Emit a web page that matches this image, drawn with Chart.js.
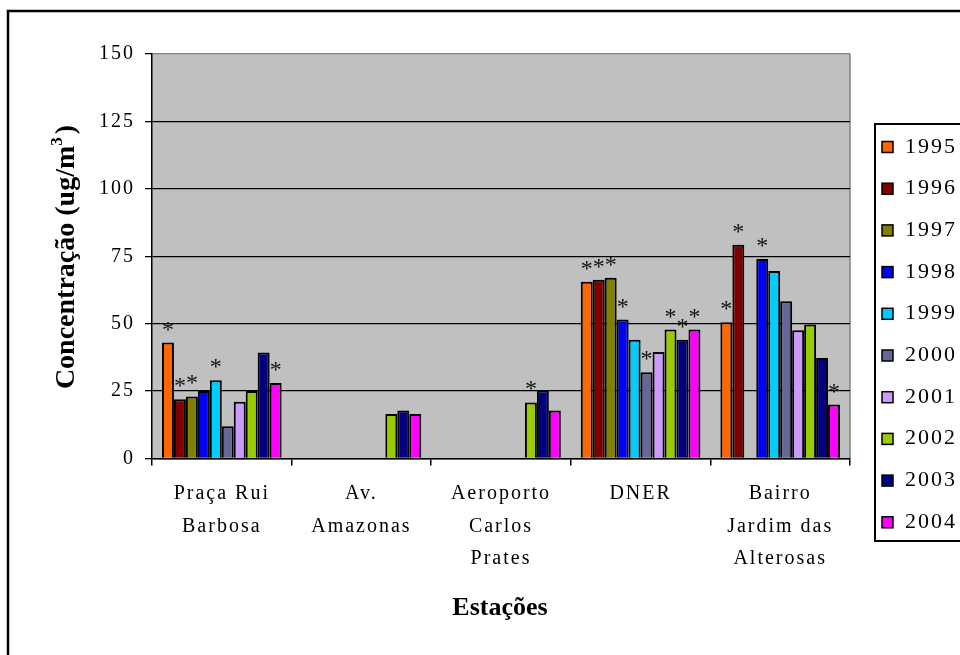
<!DOCTYPE html>
<html>
<head>
<meta charset="utf-8">
<style>
  html, body { margin: 0; padding: 0; background: #fff; }
  canvas { display: block; }
</style>
</head>
<body>
<canvas id="chart" width="960" height="655"></canvas>
<script src="https://cdn.jsdelivr.net/npm/chart.js@4.4.1/dist/chart.umd.min.js"></script>
<script>
  // Stations (x categories), one label line per array entry
  const stations = [
    ['Praça Rui', 'Barbosa'],
    ['Av.', 'Amazonas'],
    ['Aeroporto', 'Carlos', 'Prates'],
    ['DNER'],
    ['Bairro', 'Jardim das', 'Alterosas']
  ];

  const years = ['1995', '1996', '1997', '1998', '1999', '2000', '2001', '2002', '2003', '2004'];

  // Concentration per station, ug/m3 (null = no measurement)
  const c1995 = [43, null, null, 65.5, 50.5];
  const c1996 = [22, null, null, 66.3, 79.3];
  const c1997 = [23, null, null, 67, null];
  const c1998 = [25, null, null, 51.5, 74];
  const c1999 = [29, null, null, 44, 69.5];
  const c2000 = [12, null, null, 32, 58.3];
  const c2001 = [21, null, null, 39.5, 47.6];
  const c2002 = [25, 16.5, 20.8, 47.8, 49.7];
  const c2003 = [39.3, 17.8, 25.2, 44, 37.3];
  const c2004 = [28, 16.5, 17.8, 47.8, 20];

  // Asterisk marks above bars
  const m1995 = ['*', '', '', '*', '*'];
  const m1996 = ['*', '', '', '*', '*'];
  const m1997 = ['*', '', '', '*', ''];
  const m1998 = ['', '', '', '*', '*'];
  const m1999 = ['*', '', '', '', ''];
  const m2000 = ['', '', '', '*', ''];
  const m2001 = ['', '', '', '', ''];
  const m2002 = ['', '', '*', '*', ''];
  const m2003 = ['', '', '', '*', ''];
  const m2004 = ['*', '', '', '*', '*'];

  const yMax = 150;
  const yStep = 25;

  const values = [c1995, c1996, c1997, c1998, c1999, c2000, c2001, c2002, c2003, c2004];
  const marks = [m1995, m1996, m1997, m1998, m1999, m2000, m2001, m2002, m2003, m2004];
  const colors = ['#ff6600', '#800000', '#808000', '#0000ff', '#00ccff',
                  '#666699', '#cc99ff', '#99cc00', '#000080', '#ff00ff'];

  const SERIF = '"Liberation Serif", "Times New Roman", serif';

  const decor = {
    id: 'decor',
    beforeDraw(chart) {
      const { ctx, chartArea: a } = chart;
      ctx.save();
      ctx.fillStyle = '#c0c0c0';
      ctx.fillRect(a.left, a.top, a.right - a.left, a.bottom - a.top);
      ctx.strokeStyle = '#808080';
      ctx.lineWidth = 1.5;
      ctx.beginPath();
      ctx.moveTo(a.right, a.top);
      ctx.lineTo(a.right, a.bottom);
      ctx.stroke();
      ctx.restore();
      // spaced-out tick labels
      ctx.letterSpacing = '2px';
    },
    beforeDatasetsDraw(chart) {
      chart.ctx.letterSpacing = '0px';
    },
    afterDatasetsDraw(chart) {
      const ctx = chart.ctx;
      ctx.save();
      ctx.font = '24px ' + SERIF;
      ctx.fillStyle = '#111';
      ctx.textAlign = 'center';
      ctx.textBaseline = 'alphabetic';
      chart.data.datasets.forEach((ds, i) => {
        const meta = chart.getDatasetMeta(i);
        ds.marks.forEach((m, j) => {
          if (!m || ds.data[j] == null) return;
          const bar = meta.data[j];
          ctx.fillText(m, bar.x, bar.y - 6);
        });
      });
      ctx.restore();
    },
    afterDraw(chart) {
      const ctx = chart.ctx;
      ctx.save();
      ctx.letterSpacing = '0px';
      ctx.fillStyle = '#000';

      // y axis title with superscript
      ctx.save();
      ctx.translate(74, 257);
      ctx.rotate(-Math.PI / 2);
      ctx.textBaseline = 'alphabetic';
      ctx.textAlign = 'left';
      const main = 'Concentração (ug/m', sup = '3', end = ')';
      ctx.font = 'bold 28px ' + SERIF;
      const wMain = ctx.measureText(main).width;
      const wEnd = ctx.measureText(end).width;
      ctx.font = 'bold 17px ' + SERIF;
      const wSup = ctx.measureText(sup).width;
      let x = -(wMain + wSup + wEnd + 3) / 2;
      ctx.font = 'bold 28px ' + SERIF;
      ctx.fillText(main, x, 0);
      x += wMain;
      ctx.font = 'bold 17px ' + SERIF;
      ctx.fillText(sup, x, -12);
      x += wSup + 3;
      ctx.font = 'bold 28px ' + SERIF;
      ctx.fillText(end, x, 0);
      ctx.restore();

      // x axis title
      ctx.font = 'bold 26px ' + SERIF;
      ctx.textAlign = 'center';
      ctx.fillText('Estações', 500, 615);

      // legend
      ctx.strokeStyle = '#000';
      ctx.lineWidth = 2;
      ctx.strokeRect(875, 124, 130, 417);
      ctx.textAlign = 'left';
      ctx.font = '22px ' + SERIF;
      ctx.letterSpacing = '2px';
      chart.data.datasets.forEach((ds, i) => {
        const cy = 147 + i * 41.7;
        ctx.fillStyle = ds.backgroundColor;
        ctx.fillRect(882, cy - 5.5, 11, 11);
        ctx.lineWidth = 1.5;
        ctx.strokeRect(882, cy - 5.5, 11, 11);
        ctx.fillStyle = '#000';
        ctx.fillText(ds.label, 905, cy + 5.5);
      });
      ctx.letterSpacing = '0px';

      // outer frame
      ctx.lineWidth = 2.5;
      ctx.strokeRect(8, 11, 1000, 1000);
      ctx.restore();
    }
  };

  const chart = new Chart(document.getElementById('chart'), {
    type: 'bar',
    data: {
      labels: stations,
      datasets: years.map((y, i) => ({
        label: y,
        data: values[i],
        marks: marks[i],
        backgroundColor: colors[i],
        borderColor: '#000',
        borderWidth: 2,
        categoryPercentage: 0.857,
        barPercentage: 1.0
      }))
    },
    options: {
      responsive: false,
      animation: false,
      layout: { padding: { top: 54, right: 110, left: 0, bottom: 0 } },
      plugins: {
        legend: { display: false },
        tooltip: { enabled: false }
      },
      scales: {
        x: {
          grid: { offset: true, drawOnChartArea: false, color: '#000', tickLength: 7, lineWidth: 1.5 },
          border: { color: '#000', width: 1.5 },
          ticks: {
            color: '#000',
            font: { family: SERIF, size: 20, lineHeight: 1.625 },
            padding: 12,
            maxRotation: 0,
            minRotation: 0,
            autoSkip: false
          },
          afterFit(scale) { scale.height = 655 - 458.5; }
        },
        y: {
          min: 0,
          max: yMax,
          grid: {
            color: c => (c.tick && c.tick.value === yMax ? '#808080' : '#000'),
            tickColor: '#000',
            lineWidth: 1.3,
            tickLength: 7
          },
          border: { color: '#000', width: 1.5 },
          ticks: {
            stepSize: yStep,
            color: '#000',
            font: { family: SERIF, size: 20 },
            padding: 10
          },
          afterFit(scale) { scale.width = 152; }
        }
      }
    },
    plugins: [decor]
  });
</script>
</body>
</html>
